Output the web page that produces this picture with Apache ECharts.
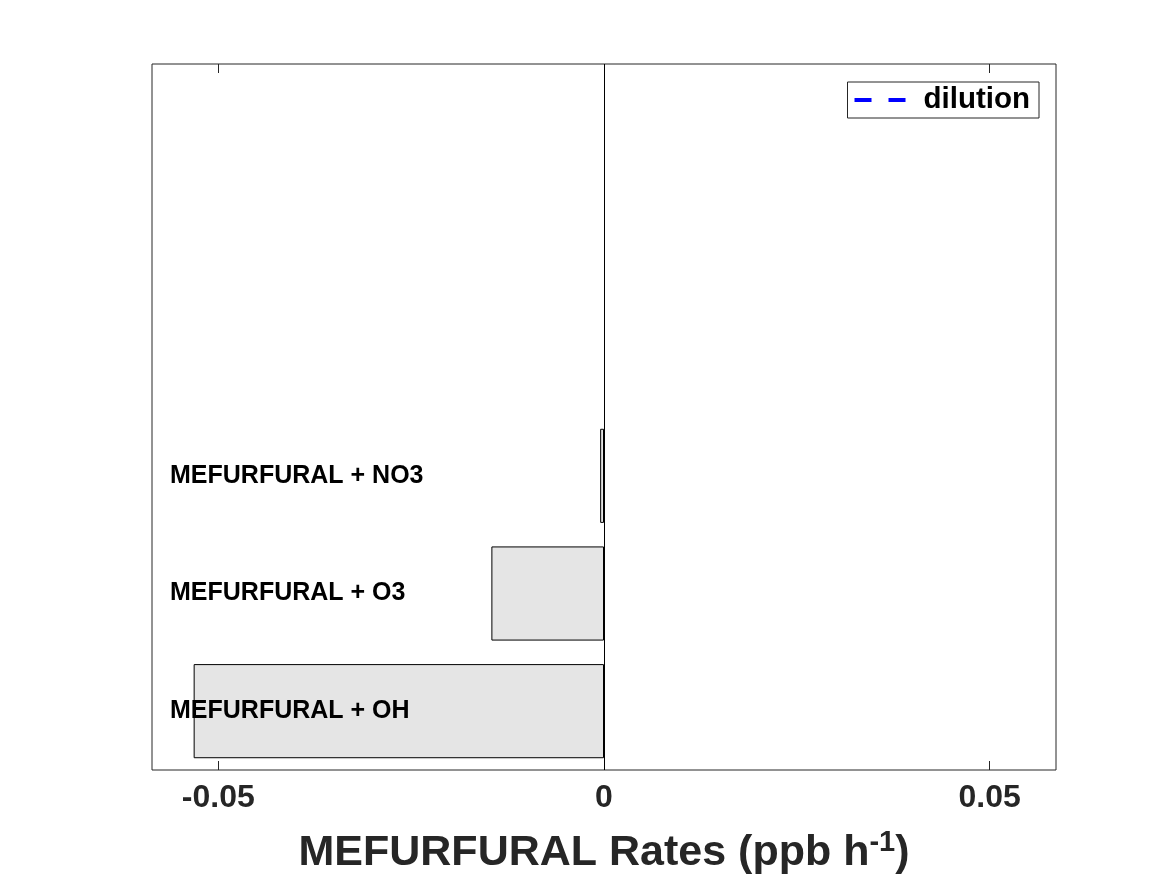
<!DOCTYPE html>
<html>
<head>
<meta charset="utf-8">
<script src="https://cdn.jsdelivr.net/npm/echarts@6/dist/echarts.min.js"></script>
<style>html,body{margin:0;padding:0;background:#fff;}#c{width:1167px;height:875px;}</style>
</head>
<body>
<div id="c"></div>
<script>
// Data
var categories = ['MEFURFURAL + OH', 'MEFURFURAL + O3', 'MEFURFURAL + NO3', '', '', ''];
var rateValues = [-0.0532, -0.0146, -0.0005, null, null, null];
var dilutionValues = [];
var xTickValues = [-0.05, 0, 0.05];
var xTickLabels = ['-0.05', '0', '0.05'];
var xMin = -0.0586, xMax = 0.0586;

var FONT = '"Liberation Sans", Arial, Helvetica, sans-serif';
var chart = echarts.init(document.getElementById('c'), null, {renderer: 'canvas'});
var labelMap = {};
xTickValues.forEach(function (v, i) { labelMap[v] = xTickLabels[i]; });

chart.setOption({
  backgroundColor: '#ffffff',
  animation: false,
  grid: {
    left: 152, right: 111, top: 64, bottom: 105,
    outerBoundsMode: 'none', containLabel: false,
    show: true, borderColor: '#262626', borderWidth: 1, backgroundColor: 'transparent'
  },
  legend: {
    right: 128, top: 82,
    orient: 'horizontal',
    backgroundColor: '#ffffff',
    borderColor: '#262626', borderWidth: 1, borderRadius: 0,
    padding: [3, 9, 3, 7],
    itemWidth: 64, itemHeight: 4,
    icon: 'path://M0,0 H17 V4 H0 Z M34,0 H51 V4 H34 Z M64,0 L64,0 Z',
    itemStyle: {color: '#0000ff', borderWidth: 0},
    textStyle: {fontFamily: FONT, fontWeight: 'bold', fontSize: 29.5, color: '#000', lineHeight: 30},
    data: ['dilution']
  },
  xAxis: [{
    type: 'value', position: 'bottom', min: xMin, max: xMax,
    axisLine: {show: false},
    splitLine: {show: false},
    axisTick: {show: true, inside: true, length: 9, lineStyle: {color: '#262626'}, customValues: xTickValues},
    axisLabel: {
      show: true, customValues: xTickValues, margin: 12,
      fontFamily: FONT, fontWeight: 'bold', fontSize: 32, color: '#262626',
      formatter: function (v) { return labelMap[v] !== undefined ? labelMap[v] : String(v); }
    },
    name: '{a|MEFURFURAL Rates (ppb h}{s|-1}{a|)}',
    nameLocation: 'middle', nameGap: 58,
    nameTextStyle: {
      rich: {
        a: {fontFamily: FONT, fontWeight: 'bold', fontSize: 43, color: '#262626', lineHeight: 50},
        s: {fontFamily: FONT, fontWeight: 'bold', fontSize: 29, color: '#262626', verticalAlign: 'top', lineHeight: 26}
      }
    }
  }, {
    type: 'value', position: 'top', min: xMin, max: xMax,
    axisLine: {show: false},
    splitLine: {show: false},
    axisTick: {show: true, inside: true, length: 9, lineStyle: {color: '#262626'}, customValues: xTickValues},
    axisLabel: {show: false}
  }],
  yAxis: {
    type: 'category', data: categories, z: 10,
    axisLine: {show: false}, axisTick: {show: false}, splitLine: {show: false},
    axisLabel: {
      inside: true, margin: 18, align: 'left', padding: [4, 0, 0, 0],
      fontFamily: FONT, fontWeight: 'bold', fontSize: 25, color: '#000'
    }
  },
  series: [{
    name: 'rates', type: 'bar', data: rateValues, barWidth: '80%',
    itemStyle: {color: '#e5e5e5', borderColor: '#000', borderWidth: 1},
    markLine: {
      silent: true, symbol: 'none', label: {show: false},
      lineStyle: {color: '#000', type: 'solid', width: 1},
      data: [{xAxis: 0}]
    }
  }, {
    name: 'dilution', type: 'line', data: dilutionValues, symbol: 'none',
    lineStyle: {color: '#0000ff', width: 3, type: [17, 17]},
    itemStyle: {color: '#0000ff'}
  }]
});
</script>
</body>
</html>
